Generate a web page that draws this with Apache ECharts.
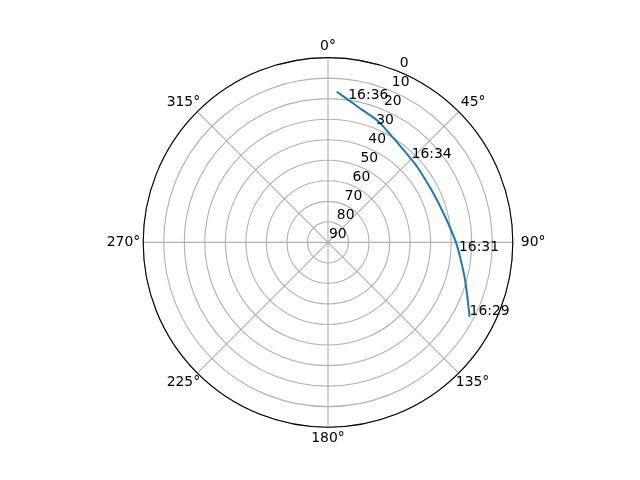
<!DOCTYPE html>
<html><head><meta charset="utf-8">
<script src="https://cdn.jsdelivr.net/npm/echarts@6/dist/echarts.min.js"></script>
<style>html,body{margin:0;padding:0;background:#fff}#c{width:640px;height:480px}</style>
</head><body><div id="c"></div>
<script>
// ---- data ----
const angleTicks = [0, 45, 90, 135, 180, 225, 270, 315];
const radiusTicks = [0, 10, 20, 30, 40, 50, 60, 70, 80, 90];
const passAzimuth   = [117.7, 105.3, 94.5, 88.9, 79.3, 65.0, 51.0, 45.3, 32.0, 22.5, 14.3, 8.1, 3.3];
const passElevation = [12.1, 20.8, 26.0, 28.1, 31.2, 33.4, 33.2, 32.7, 30.0, 26.1, 23.3, 19.9, 16.5];
const timeLabels    = ['16:29', '16:31', '16:34', '16:36'];
const timeAzimuth   = [117.7, 94.5, 45.3, 8.1];
const timeElevation = [12.1, 26.0, 32.7, 19.9];

// ---- style / layout ----
const FONT = 'DejaVu Sans';
const FS = 13.9;
const RADIAL_LABEL_ANGLE = 22.5;
const labelPad = { // [top,right,bottom,left] per angle label
  0: [0, 0, 17, 0], 45: [0, 0, 10, 5], 90: [0, 0, 0, 12], 135: [10, 0, 0, 0],
  180: [17, 0, 0, 0], 225: [10, 0, 0, 0], 270: [0, 7, 0, 0], 315: [0, 0, 10, 0]
};
const rich = {};
angleTicks.forEach(a => {
  rich['a' + a] = { fontFamily: FONT, fontSize: FS, lineHeight: 14, color: '#000', padding: labelPad[a] };
});
const textLabel = (offset) => ({
  show: true, formatter: '{b}', position: [0, 0], align: 'left', verticalAlign: 'bottom',
  offset: offset, fontFamily: FONT, fontSize: FS, color: '#000', textBorderWidth: 0, opacity: 1
});

const chart = echarts.init(document.getElementById('c'), null, { renderer: 'canvas' });
chart.setOption({
  animation: false,
  backgroundColor: '#fff',
  polar: { center: [328, 242.4], radius: 184.8 },
  angleAxis: {
    type: 'value', min: 0, max: 360, interval: 45, startAngle: 90, clockwise: true, z: 3,
    axisLine: { lineStyle: { color: '#000', width: 1.1 } },
    axisTick: { show: false },
    splitLine: { lineStyle: { color: '#b0b0b0', width: 1.1 } },
    axisLabel: {
      margin: -4, fontFamily: FONT, fontSize: FS, color: '#000',
      formatter: v => '{a' + v + '|' + v + '°}', rich: rich
    }
  },
  radiusAxis: {
    type: 'value', min: 0, max: 90, interval: 10, inverse: true, z: 1,
    axisLine: { show: false }, axisTick: { show: false }, axisLabel: { show: false },
    splitLine: { lineStyle: { color: '#b0b0b0', width: 1.1 } }
  },
  series: [
    {
      type: 'line', coordinateSystem: 'polar', showSymbol: false, smooth: 0.25, z: 5,
      lineStyle: { color: '#1f77b4', width: 2 },
      data: passElevation.map((e, i) => [e, passAzimuth[i]])
    },
    {
      type: 'scatter', coordinateSystem: 'polar', symbolSize: 0, z: 6,
      itemStyle: { opacity: 1 },
      data: timeElevation.map((e, i) => ({ value: [e, timeAzimuth[i]], name: timeLabels[i] })),
      label: textLabel([0, 2])
    },
    {
      type: 'scatter', coordinateSystem: 'polar', symbolSize: 0, z: 6,
      itemStyle: { opacity: 1 },
      data: radiusTicks.map(r => ({ value: [r, RADIAL_LABEL_ANGLE], name: String(r) })),
      label: textLabel([1, -1.5])
    }
  ]
});
</script></body></html>
